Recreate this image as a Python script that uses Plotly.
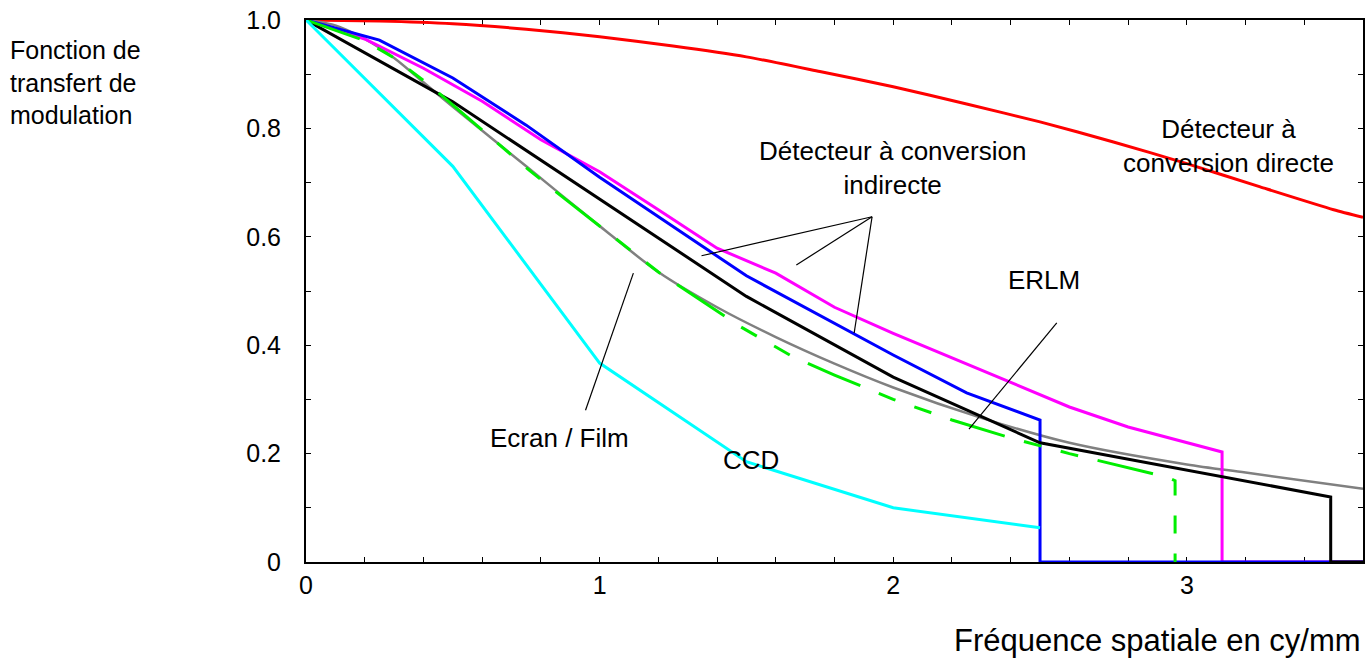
import plotly.graph_objects as go

# ---- data ----
red_x = [0, 0.25, 0.5, 0.75, 1.0, 1.25, 1.5, 1.75, 2.0, 2.25, 2.5, 2.75, 3.0, 3.25, 3.5, 3.6]
red_y = [1.0, 0.998, 0.993, 0.983, 0.969, 0.952, 0.932, 0.905, 0.877, 0.845, 0.812, 0.775, 0.735, 0.692, 0.65, 0.636]

gray_x = [0, 0.1, 0.2, 0.3, 0.4, 0.5, 0.75, 1.0, 1.2, 1.4, 1.6, 1.8, 2.0, 2.3, 2.6, 3.0, 3.2, 3.6]
gray_y = [1.0, 0.99, 0.965, 0.93, 0.885, 0.84, 0.73, 0.62, 0.535, 0.47, 0.415, 0.366, 0.322, 0.266, 0.22, 0.18, 0.165, 0.135]

magenta_x = [0, 0.2, 0.4, 0.6, 0.8, 1.0, 1.2, 1.4, 1.6, 1.8, 2.0, 2.6, 2.8, 3.12, 3.12, 3.6]
magenta_y = [1.0, 0.965, 0.911, 0.85, 0.779, 0.72, 0.65, 0.579, 0.533, 0.47, 0.422, 0.286, 0.249, 0.203, 0.0, 0.0]

blue_x = [0, 0.25, 0.5, 0.75, 1.0, 1.5, 2.0, 2.25, 2.5, 2.5, 3.6]
blue_y = [1.0, 0.963, 0.893, 0.806, 0.71, 0.528, 0.382, 0.312, 0.262, 0.0, 0.0]

black_x = [0, 0.5, 1.5, 2.0, 2.5, 3.0, 3.49, 3.49, 3.6]
black_y = [1.0, 0.849, 0.49, 0.341, 0.22, 0.17, 0.12, 0.0, 0.0]

green_x = [0, 0.2, 0.3, 0.42, 0.6, 0.76, 0.87, 1.0, 1.14, 1.2, 1.48, 1.66, 1.8, 2.0, 2.2, 2.4, 2.6, 2.73, 2.86, 2.93, 2.96, 2.96]
green_y = [1.0, 0.962, 0.93, 0.88, 0.797, 0.723, 0.675, 0.62, 0.56, 0.535, 0.434, 0.378, 0.345, 0.3, 0.262, 0.229, 0.2, 0.183, 0.166, 0.157, 0.15, 0.0]

cyan_x = [0, 0.5, 1.0, 1.5, 2.0, 2.5]
cyan_y = [1.0, 0.73, 0.367, 0.185, 0.10, 0.063]

x_tickvals = [0, 0.2, 0.4, 0.6, 0.8, 1.0, 1.2, 1.4, 1.6, 1.8, 2.0, 2.2, 2.4, 2.6, 2.8, 3.0, 3.2, 3.4]
x_ticktext = ["0", "", "", "", "", "1", "", "", "", "", "2", "", "", "", "", "3", "", ""]
y_tickvals = [0, 0.1, 0.2, 0.3, 0.4, 0.5, 0.6, 0.7, 0.8, 0.9, 1.0]
y_ticktext = ["0", "", "0.2", "", "0.4", "", "0.6", "", "0.8", "", "1.0"]

FONT = "Arial, Liberation Sans, sans-serif"

fig = go.Figure()
fig.add_trace(go.Scatter(x=red_x, y=red_y, mode="lines", line=dict(color="#ff0000", width=3, shape="spline", smoothing=0.6), name="Détecteur à conversion directe"))
fig.add_trace(go.Scatter(x=gray_x, y=gray_y, mode="lines", line=dict(color="#808080", width=2.5, shape="spline", smoothing=0.8), name="Ecran / Film"))
fig.add_trace(go.Scatter(x=magenta_x, y=magenta_y, mode="lines", line=dict(color="#ff00ff", width=3), name="Indirecte 2"))
fig.add_trace(go.Scatter(x=blue_x, y=blue_y, mode="lines", line=dict(color="#0000ff", width=3), name="Indirecte 1"))
fig.add_trace(go.Scatter(x=black_x, y=black_y, mode="lines", line=dict(color="#000000", width=3), name="ERLM"))
fig.add_trace(go.Scatter(x=green_x, y=green_y, mode="lines", line=dict(color="#00ee00", width=3, dash="57px,20px,18px,20px,18px,20px"), name="Film"))
fig.add_trace(go.Scatter(x=cyan_x, y=cyan_y, mode="lines", line=dict(color="#00ffff", width=3), name="CCD"))

# leader lines
leaders = [
    ((1.928, 0.637), (1.347, 0.565)),
    ((1.928, 0.637), (1.670, 0.548)),
    ((1.928, 0.637), (1.867, 0.4225)),
    ((2.557, 0.441), (2.258, 0.245)),
    ((1.115, 0.533), (0.952, 0.280)),
]
for (x0, y0), (x1, y1) in leaders:
    fig.add_shape(type="line", xref="x", yref="y", x0=x0, y0=y0, x1=x1, y1=y1,
                  line=dict(color="black", width=1.2))

labels = [
    (1.997, 0.727, "Détecteur à conversion<br>indirecte"),
    (3.143, 0.7675, "Détecteur à<br>conversion directe"),
    (2.514, 0.52, "ERLM"),
    (0.864, 0.229, "Ecran / Film"),
    (1.514, 0.188, "CCD"),
]
for x, y, t in labels:
    fig.add_annotation(x=x, y=y, xref="x", yref="y", text=t, showarrow=False,
                       align="center", font=dict(family=FONT, size=26, color="black"))

fig.add_annotation(x=-0.2819, y=0.8856, xref="paper", yref="paper", xanchor="left", yanchor="middle",
                   text="Fonction de<br>transfert de<br>modulation", showarrow=False, align="left",
                   font=dict(family=FONT, size=25, color="black"))
fig.add_annotation(x=0.806, y=-0.144, xref="paper", yref="paper", xanchor="center", yanchor="middle",
                   text="Fréquence spatiale en cy/mm", showarrow=False,
                   font=dict(family=FONT, size=31, color="black"))

fig.update_layout(
    width=1371, height=660,
    margin=dict(l=306, r=8, t=20, b=98, autoexpand=False),
    paper_bgcolor="white", plot_bgcolor="white",
    showlegend=False,
    font=dict(family=FONT, size=24, color="black"),
    xaxis=dict(range=[0, 3.6], tickvals=x_tickvals, ticktext=x_ticktext, ticks="inside", ticklen=5,
               tickwidth=1, tickcolor="black", showline=True, linecolor="black", linewidth=2,
               mirror="ticks", showgrid=False, zeroline=False, ticklabelstandoff=0,
               ticklabeloverflow="allow", automargin=False,
               tickfont=dict(family=FONT, size=25), layer="below traces"),
    yaxis=dict(range=[0, 1.0], tickvals=y_tickvals, ticktext=y_ticktext, ticks="inside", ticklen=5,
               tickwidth=1, tickcolor="black", showline=True, linecolor="black", linewidth=2,
               mirror="ticks", showgrid=False, zeroline=False, ticklabelstandoff=18,
               ticklabeloverflow="allow", automargin=False,
               tickfont=dict(family=FONT, size=25), layer="below traces"),
)

# remove the browser's default 8px body margin so the figure fills the window
fig.write_html("out.html", config={"displayModeBar": False},
               post_script="document.body.style.margin='0';document.body.style.overflow='hidden';")
